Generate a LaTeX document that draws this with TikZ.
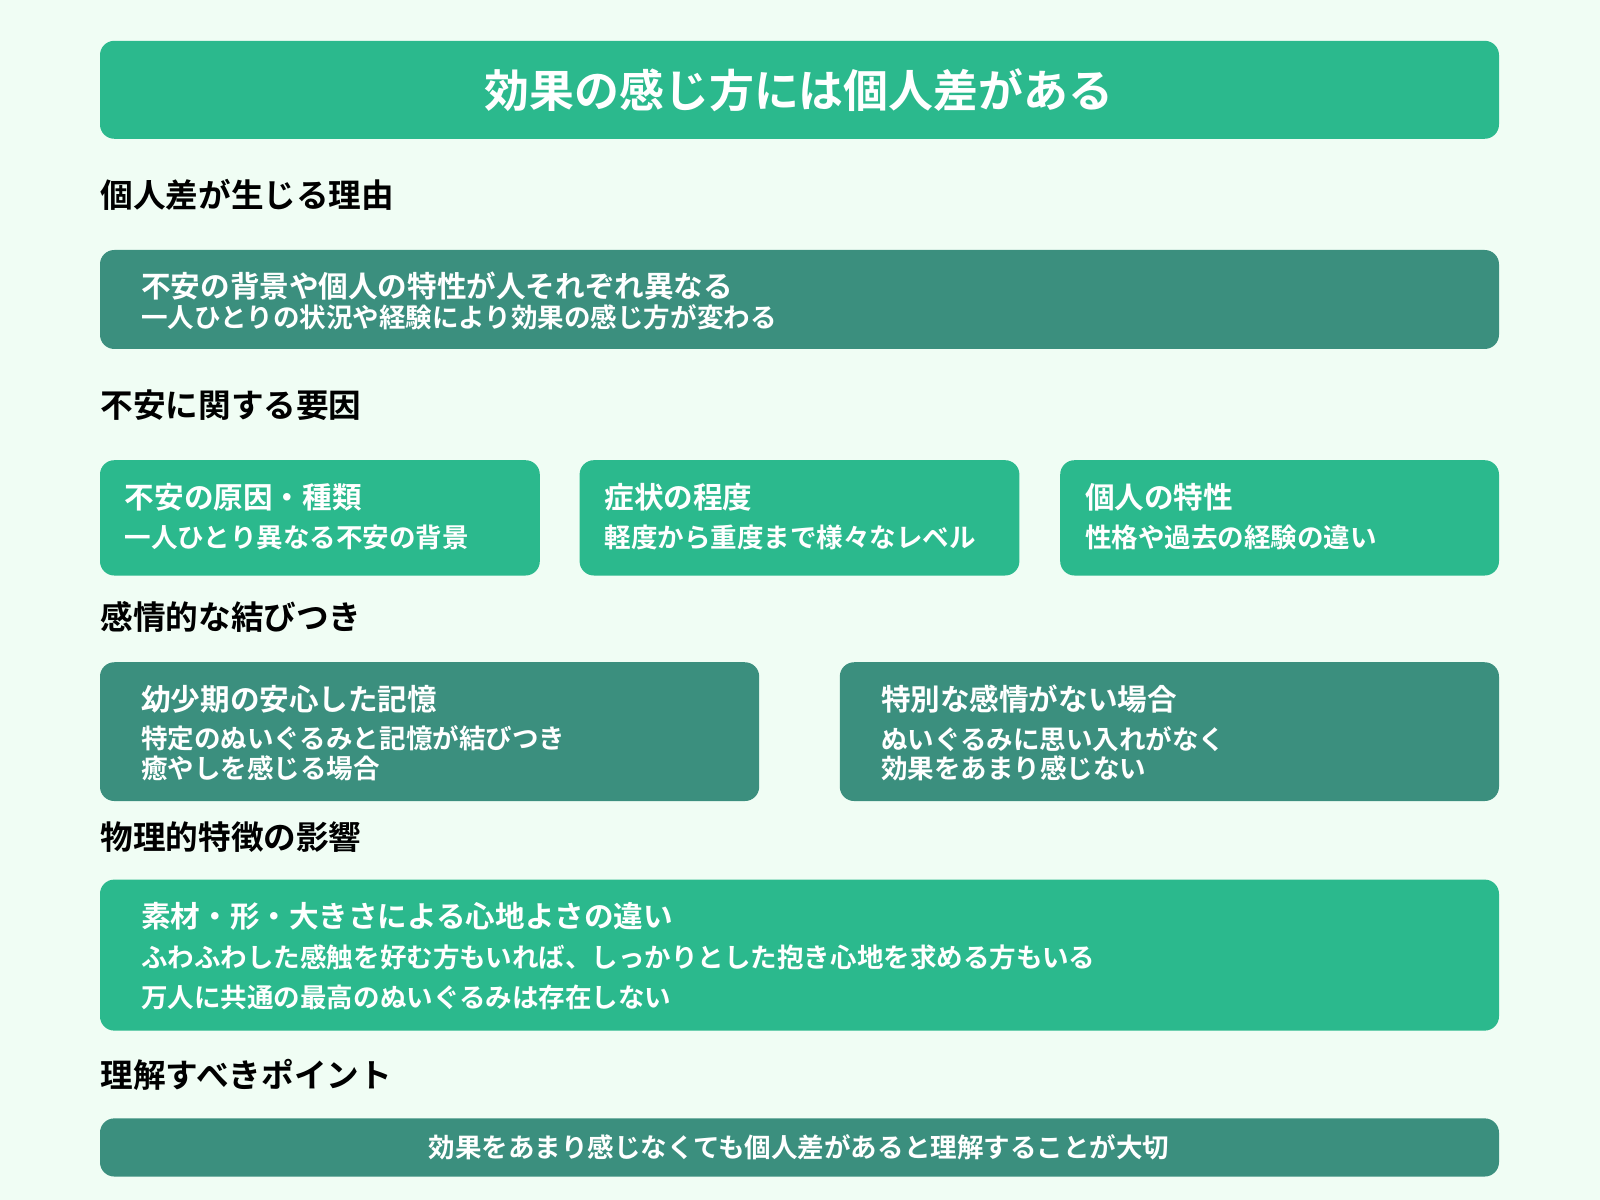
\documentclass[tikz,border=0pt]{standalone}
\usepackage{fontspec}
\setmainfont{Noto Sans CJK JP}[BoldFont={Noto Sans CJK JP Bold}]
\definecolor{bg}{HTML}{F0FDF4}
\definecolor{lg}{HTML}{2BB98D}
\definecolor{dg}{HTML}{3B8F7E}
\tikzset{
 card/.style={rounded corners=7pt,draw=none},
 hd/.style={anchor=west,inner sep=0,font=\bfseries\fontsize{16}{18}\selectfont,text=black},
 bt/.style={anchor=west,inner sep=0,font=\bfseries\fontsize{14.5}{16}\selectfont,text=white},
 bs/.style={anchor=west,inner sep=0,font=\bfseries\fontsize{13}{15}\selectfont,text=white},
}
\begin{document}
\begin{tikzpicture}[x=0.5pt,y=-0.5pt]
\fill[bg] (0,0) rectangle (1568,1176);
\useasboundingbox (0,0) rectangle (1568,1176);
\fill[lg,card] (98,40) rectangle (1469,136);
\node[inner sep=0,font=\bfseries\fontsize{22}{24}\selectfont,text=white] (title) at (783,88) {効果の感じ方には個人差がある};
\node[hd] (h1) at (98,191) {個人差が生じる理由};
\fill[dg,card] (98,245) rectangle (1469,342);
\node[bt] (b1a) at (138,280) {不安の背景や個人の特性が人それぞれ異なる};
\node[bs] (b1b) at (138,311) {一人ひとりの状況や経験により効果の感じ方が変わる};
\node[hd] (h2) at (98,397) {不安に関する要因};
\fill[lg,card] (98,451) rectangle (529,564);
\fill[lg,card] (568,451) rectangle (999,564);
\fill[lg,card] (1039,451) rectangle (1469,564);
\node[bt] (c1a) at (122,487) {不安の原因・種類};
\node[bs] (c1b) at (122,527) {一人ひとり異なる不安の背景};
\node[bt] (c2a) at (592,487) {症状の程度};
\node[bs] (c2b) at (592,527) {軽度から重度まで様々なレベル};
\node[bt] (c3a) at (1063,487) {個人の特性};
\node[bs] (c3b) at (1063,527) {性格や過去の経験の違い};
\node[hd] (h3) at (98,605) {感情的な結びつき};
\fill[dg,card] (98,649) rectangle (744,785);
\fill[dg,card] (823,649) rectangle (1469,785);
\node[bt] (d1a) at (138,685) {幼少期の安心した記憶};
\node[bs] (d1b) at (138,724) {特定のぬいぐるみと記憶が結びつき};
\node[bs] (d1c) at (138,753) {癒やしを感じる場合};
\node[bt] (d2a) at (863,685) {特別な感情がない場合};
\node[bs] (d2b) at (863,724) {ぬいぐるみに思い入れがなく};
\node[bs] (d2c) at (863,753) {効果をあまり感じない};
\node[hd] (h4) at (98,820) {物理的特徴の影響};
\fill[lg,card] (98,862) rectangle (1469,1010);
\node[bt] (e1) at (138,898) {素材・形・大きさによる心地よさの違い};
\node[bs] (e2) at (138,938) {ふわふわした感触を好む方もいれば、しっかりとした抱き心地を求める方もいる};
\node[bs] (e3) at (138,977) {万人に共通の最高のぬいぐるみは存在しない};
\node[hd] (h5) at (98,1053) {理解すべきポイント};
\fill[dg,card] (98,1096) rectangle (1469,1153);
\node[inner sep=0,font=\bfseries\fontsize{13}{15}\selectfont,text=white] (f1) at (783,1124) {効果をあまり感じなくても個人差があると理解することが大切};
\end{tikzpicture}
\end{document}
